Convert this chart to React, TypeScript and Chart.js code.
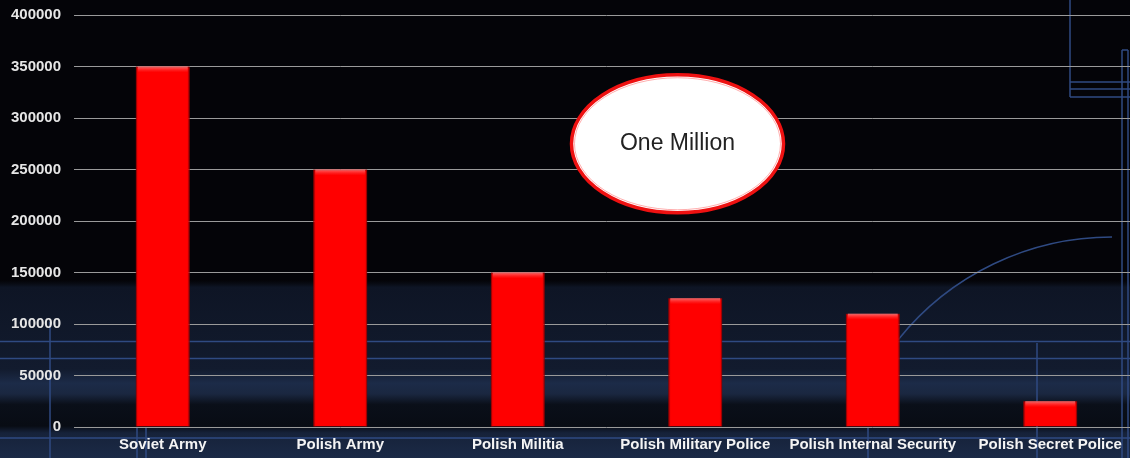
import React, { useEffect, useRef } from "react";
import { Chart, registerables } from "chart.js";

Chart.register(...registerables);

const categories = [
  "Soviet Army",
  "Polish Army",
  "Polish Militia",
  "Polish Military Police",
  "Polish Internal Security",
  "Polish Secret Police",
];
const troops = [350000, 250000, 150000, 125000, 110000, 25000];
const yTicks = [0, 50000, 100000, 150000, 200000, 250000, 300000, 350000, 400000];
const calloutText = "One Million";
const calloutAnchor = { xIndex: 2.9, yValue: 275000 };

const FONT = "'Liberation Sans', Arial, sans-serif";

const backgroundPlugin = {
  id: "bgDecor",
  beforeDraw(chart: any) {
    const { ctx, width: W, height: H } = chart;
    ctx.save();
    ctx.fillStyle = "#040408";
    ctx.fillRect(0, 0, W, H);
    const g = ctx.createLinearGradient(0, 280, 0, H);
    g.addColorStop(0, "rgba(10,14,24,0)");
    g.addColorStop(0.04, "#0e1525");
    g.addColorStop(0.5, "#121b2e");
    g.addColorStop(0.58, "#1c2b48");
    g.addColorStop(0.64, "#1a2740");
    g.addColorStop(0.7, "#0a0f19");
    g.addColorStop(0.82, "#080c14");
    g.addColorStop(0.86, "#16223a");
    g.addColorStop(1, "#1b2a46");
    ctx.fillStyle = g;
    ctx.fillRect(0, 280, W, H - 280);

    ctx.strokeStyle = "#2f4a82";
    ctx.lineWidth = 1.5;
    const line = (x1: number, y1: number, x2: number, y2: number) => {
      ctx.beginPath();
      ctx.moveTo(x1, y1);
      ctx.lineTo(x2, y2);
      ctx.stroke();
    };
    line(0, 341.5, W, 341.5);
    line(0, 358.5, W, 358.5);
    line(0, 438, W, 438);
    line(50, 322, 50, H);
    line(137, 427, 137, H);
    line(146, 427, 146, H);
    line(868, 427, 868, H);
    line(1037, 343, 1037, H);
    line(1070, 0, 1070, 97);
    line(1070, 82, W, 82);
    line(1070, 89, W, 89);
    line(1070, 97, W, 97);
    line(1122, 50, 1122, H);
    line(1128, 50, 1128, H);
    line(1122, 50, 1128, 50);
    ctx.beginPath();
    ctx.arc(1112, 511, 274, Math.PI * 1.215, Math.PI * 1.5);
    ctx.stroke();
    ctx.restore();
  },
};

const barBevelPlugin = {
  id: "barBevel",
  afterDatasetsDraw(chart: any) {
    const { ctx } = chart;
    const meta = chart.getDatasetMeta(0);
    ctx.save();
    meta.data.forEach((bar: any) => {
      const { x, y, base, width } = bar.getProps(["x", "y", "base", "width"], true);
      const l = x - width / 2;
      const r = x + width / 2;
      const sg = ctx.createLinearGradient(l, 0, r, 0);
      sg.addColorStop(0, "rgba(120,0,0,0.55)");
      sg.addColorStop(0.06, "rgba(255,0,0,0)");
      sg.addColorStop(0.94, "rgba(255,0,0,0)");
      sg.addColorStop(1, "rgba(120,0,0,0.55)");
      ctx.fillStyle = sg;
      ctx.fillRect(l, y, width, base - y);
      const tg = ctx.createLinearGradient(0, y, 0, y + 6);
      tg.addColorStop(0, "rgba(255,120,120,0.9)");
      tg.addColorStop(1, "rgba(255,60,60,0)");
      ctx.fillStyle = tg;
      ctx.fillRect(l + 2, y, width - 4, 6);
    });
    ctx.restore();
  },
};

const calloutPlugin = {
  id: "callout",
  afterDraw(chart: any) {
    const { ctx, scales } = chart;
    const cx = scales.x.getPixelForValue(calloutAnchor.xIndex);
    const cy = scales.y.getPixelForValue(calloutAnchor.yValue);
    ctx.save();
    ctx.beginPath();
    ctx.ellipse(cx, cy, 106, 69, 0, 0, Math.PI * 2);
    ctx.fillStyle = "#ffffff";
    ctx.fill();
    ctx.lineWidth = 3.5;
    ctx.strokeStyle = "#ee1111";
    ctx.stroke();
    ctx.beginPath();
    ctx.ellipse(cx, cy, 103, 66, 0, 0, Math.PI * 2);
    ctx.lineWidth = 1;
    ctx.strokeStyle = "rgba(255,120,120,0.6)";
    ctx.stroke();
    ctx.fillStyle = "#222222";
    ctx.font = `23px ${FONT}`;
    ctx.textAlign = "center";
    ctx.textBaseline = "middle";
    ctx.fillText(calloutText, cx, cy);
    ctx.restore();
  },
};

export default function App() {
  const ref = useRef<HTMLCanvasElement | null>(null);
  useEffect(() => {
    if (!ref.current) return;
    const chart = new Chart(ref.current, {
      type: "bar",
      data: {
        labels: categories,
        datasets: [
          {
            data: troops,
            backgroundColor: "#ff0000",
            borderColor: "#b00000",
            borderWidth: 1,
            barPercentage: 0.62,
            categoryPercentage: 0.49,
          },
        ],
      },
      options: {
        animation: false,
        responsive: true,
        maintainAspectRatio: false,
        layout: { padding: { top: 15, right: 0, left: 0, bottom: 0 } },
        plugins: {
          legend: { display: false },
          tooltip: { enabled: false },
          title: { display: false },
        },
        scales: {
          x: {
            offset: true,
            grid: { display: false, drawTicks: false },
            border: { display: false },
            ticks: {
              color: "#f4f4f4",
              font: { family: FONT, size: 15, weight: "bold" },
              padding: 9,
              maxRotation: 0,
              autoSkip: false,
            },
            afterFit(scale: any) {
              scale.height = 31;
              scale.paddingLeft = 0;
              scale.paddingRight = 0;
            },
          },
          y: {
            min: 0,
            max: 400000,
            afterBuildTicks(scale: any) {
              scale.ticks = yTicks.map((v) => ({ value: v }));
            },
            grid: { color: "#9a9a9a", lineWidth: 1, drawTicks: false },
            border: { display: false },
            ticks: {
              color: "#e6e6e6",
              font: { family: FONT, size: 15, weight: "bold" },
              padding: 13,
              callback: (v: any) => String(v),
            },
            afterFit(scale: any) {
              scale.width = 74;
              scale.paddingTop = 0;
              scale.paddingBottom = 0;
            },
          },
        },
      },
      plugins: [backgroundPlugin, barBevelPlugin, calloutPlugin],
    });
    return () => chart.destroy();
  }, []);
  return (
    <div style={{ position: "absolute", left: 0, top: 0, width: 1130, height: 458, overflow: "hidden" }}>
      <div style={{ position: "relative", width: 1139, height: 458 }}>
        <canvas ref={ref} />
      </div>
    </div>
  );
}
